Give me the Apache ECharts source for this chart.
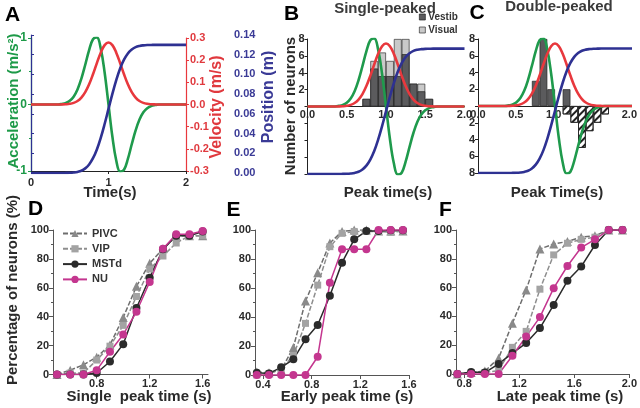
<!DOCTYPE html>
<html><head><meta charset="utf-8">
<script src="https://cdn.jsdelivr.net/npm/echarts@6/dist/echarts.min.js"></script>
<style>html,body{margin:0;padding:0;background:#fff}#c{width:640px;height:408px}</style>
</head><body><div id="c"></div>
<script>
// ---- Stimulus profiles (panel A, also overlaid in B and C) ----
const timeS = [0,0.05,0.1,0.15,0.2,0.25,0.3,0.35,0.4,0.45,0.5,0.55,0.6,0.65,0.7,0.75,0.8,0.85,0.9,0.95,1.0,
  1.05,1.1,1.15,1.2,1.25,1.3,1.35,1.4,1.45,1.5,1.55,1.6,1.65,1.7,1.75,1.8,1.85,1.9,1.95,2.0];
const accel = [0,0,0,0,0,0,0,0,0.009,0.024,0.056,0.118,0.226,0.389,0.598,0.818,0.981,1.009,0.842,0.482,0,
  -0.482,-0.842,-1.009,-0.981,-0.818,-0.598,-0.389,-0.226,-0.118,-0.056,-0.024,-0.009,0,0,0,0,0,0,0,0];
const velocity = [0,0,0,0,0,0,0,0,0.0004,0.0012,0.0031,0.0073,0.0157,0.0309,0.0554,0.0909,0.1363,0.1868,0.2339,0.2677,0.28,
  0.2677,0.2339,0.1868,0.1363,0.0909,0.0554,0.0309,0.0157,0.0073,0.0031,0.0012,0.0004,0,0,0,0,0,0,0,0];
const position = [0,0,0,0,0,0,0,0,0,0.0001,0.0002,0.0005,0.0011,0.0023,0.0047,0.0087,0.015,0.0239,0.0357,0.0497,0.065,
  0.0803,0.0943,0.1061,0.115,0.1213,0.1253,0.1277,0.1289,0.1295,0.1298,0.1299,0.13,0.13,0.13,0.13,0.13,0.13,0.13,0.13,0.13];

// ---- Panel B histogram (single-peaked) ----
const binsB = [0.75,0.85,0.95,1.05,1.15,1.25,1.35,1.45,1.55];
const vestibB = [0.9,4.5,3.6,3.6,3.6,6.2,2.7,1.8,0.9];
const visualB = [0.9,5.4,6.4,5.4,8.0,8.0,2.7,2.7,0.9];

// ---- Panel C histogram (double-peaked) ----
const binsCEarly = [0.75,0.85,0.95,1.15];
const earlyC = [3,8,2,2];
const binsCLate = [1.15,1.25,1.35,1.45,1.55,1.65];
const lateC = [1,2,5,3,2,1];

// ---- Panel D (single peak time) ----
const xD = [0.5,0.6,0.7,0.8,0.9,1.0,1.1,1.2,1.3,1.4,1.5,1.6];
const pivcD = [0,3,6.7,12,20.5,39.5,61,77,87,96,96,96];
const vipD  = [0,1,1,10,19.6,34,54,73,82,91,96,96];
const mstdD = [0,0,0,1,9,21,46,67,86.6,96,96,99];
const nuD   = [0,0,0,3,15.7,27.7,43.4,64,87,97,97,99.3];

// ---- Panel E (early peak time) ----
const xE = [0.35,0.45,0.55,0.65,0.75,0.85,0.95,1.05,1.15,1.25,1.35,1.45,1.55];
const pivcE = [2,1.6,3.4,19,51,70.6,91,99,100,100,99.3,99.3,99.3];
const vipE  = [0,1,4,13.5,35.6,62,88.5,97.7,99,99,99,98.4,99.3];
const mstdE = [1.6,1.1,5.3,10.8,24.6,34.5,54.7,77.5,93.6,99.3,99.3,99.8,99.8];
const nuE   = [0,0,0,0,0,12.6,63.7,86.7,86.7,86.7,100,100,100];

// ---- Panel F (late peak time) ----
const xF = [0.75,0.85,0.95,1.05,1.15,1.25,1.35,1.45,1.55,1.65,1.75,1.85,1.95];
const pivcF = [0,1,2,11,35.3,58.4,86.8,90.3,92,95,96,100,100];
const vipF  = [0,1,1,2.5,18.5,29.6,58.9,82.7,90.8,93.5,95,100,100];
const mstdF = [0,1.4,1,7,14.5,21.5,31.9,48,64.7,74.6,89.6,100,100];
const nuF   = [0,0,0,0,12.7,26,39.5,59.6,75,87.8,93.5,100,100];

const FONT = '"Liberation Sans", Arial, sans-serif';
const GREEN = '#1f9a4c', RED = '#e8383d', BLUE = '#2e3192';
const GREEN_T = '#1d9a48', RED_T = '#e0393e', BLUE_T = '#3a3a96';
const INK = '#2a2a2a';
const DARKBAR = '#5b5b5d', LIGHTBAR = '#c9c9c9';

const pairs = (xs, ys, f) => xs.map((x, i) => [x, f ? f(ys[i]) : ys[i]]);
const lbl = (color, extra) => Object.assign({color: color || INK, fontWeight: 'bold', fontSize: 11, fontFamily: FONT}, extra || {});

const chart = echarts.init(document.getElementById('c'), null, {renderer: 'canvas'});

const grids = [
  {left: 31, top: 38, width: 155, height: 133},      // 0 A
  {left: 31, top: 35, width: 155, height: 138},      // 1 A position axis
  {left: 307.5, top: 39, width: 157, height: 135},   // 2 B
  {left: 478, top: 39, width: 154, height: 134},     // 3 C
  {left: 53, top: 230, width: 155, height: 144.5},   // 4 D
  {left: 255, top: 230, width: 154, height: 145},    // 5 E
  {left: 456, top: 230, width: 174, height: 144},    // 6 F
  {left: 307.5, top: 39, width: 157, height: 67.5},  // 7 B upper half (time axis at zero line)
  {left: 478, top: 39, width: 154, height: 67}       // 8 C upper half (time axis at zero line)
];

const fmt1 = v => (Math.abs(v) < 1e-9 ? '0.0' : v.toFixed(1));

const midTimeAxis = gi => ({gridIndex: gi, type: 'value', min: 0, max: 2, interval: 0.5, splitLine: {show: false},
  axisLine: {onZero: false, lineStyle: {color: '#222'}}, axisTick: {show: false},
  axisLabel: lbl(INK, {margin: 3, formatter: fmt1})});

const xAxes = [
  {gridIndex: 0, type: 'value', min: 0, max: 2, interval: 1, splitLine: {show: false},
   axisLine: {onZero: false, lineStyle: {color: '#222'}}, axisTick: {length: 3, lineStyle: {color: '#222'}},
   axisLabel: lbl(INK, {margin: 6})},
  {gridIndex: 1, type: 'value', min: 0, max: 2, show: false},
  {gridIndex: 2, type: 'value', min: 0, max: 2, show: false},
  {gridIndex: 3, type: 'value', min: 0, max: 2, show: false},
  {gridIndex: 4, type: 'value', min: 0.47, max: 1.64, splitLine: {show: false},
   axisLine: {onZero: false, lineStyle: {color: '#555'}},
   axisTick: {customValues: [0.8, 1.2, 1.6], length: 4, lineStyle: {color: '#555'}},
   axisLabel: lbl(INK, {customValues: [0.8, 1.2, 1.6], formatter: fmt1, margin: 4})},
  {gridIndex: 5, type: 'value', min: 0.335, max: 1.6, splitLine: {show: false},
   axisLine: {onZero: false, lineStyle: {color: '#555'}},
   axisTick: {customValues: [0.4, 0.8, 1.2, 1.6], length: 4, lineStyle: {color: '#555'}},
   axisLabel: lbl(INK, {customValues: [0.4, 0.8, 1.2, 1.6], formatter: fmt1, margin: 4})},
  {gridIndex: 6, type: 'value', min: 0.74, max: 2.0, splitLine: {show: false},
   axisLine: {onZero: false, lineStyle: {color: '#555'}},
   axisTick: {customValues: [0.8, 1.2, 1.6, 2.0], length: 4, lineStyle: {color: '#555'}},
   axisLabel: lbl(INK, {customValues: [0.8, 1.2, 1.6, 2.0], formatter: fmt1, margin: 4})},
  midTimeAxis(7),
  midTimeAxis(8)
];

const pctAxis = gi => ({gridIndex: gi, type: 'value', min: 0, max: 100, interval: 20, splitLine: {show: false},
  axisLine: {show: true, lineStyle: {color: '#555'}}, axisTick: {show: true, length: 4, lineStyle: {color: '#555'}},
  minorTick: {show: true, splitNumber: 2, length: 2, lineStyle: {color: '#555'}},
  axisLabel: lbl(INK, {margin: 4})});

const yAxes = [
  {gridIndex: 0, type: 'value', min: -1, max: 1, interval: 1, position: 'left', splitLine: {show: false},
   axisLine: {show: true, lineStyle: {color: GREEN, width: 1.2}}, axisTick: {show: true, length: 3, lineStyle: {color: GREEN}},
   minorTick: {show: true, splitNumber: 2, length: 2, lineStyle: {color: GREEN}},
   axisLabel: lbl(GREEN_T, {margin: 4, fontSize: 12})},
  {gridIndex: 0, type: 'value', min: -0.3, max: 0.3, interval: 0.1, position: 'right', splitLine: {show: false},
   axisLine: {show: true, lineStyle: {color: RED, width: 1.2}}, axisTick: {show: true, length: 3, lineStyle: {color: RED}},
   axisLabel: lbl(RED_T, {margin: 4, formatter: fmt1})},
  {gridIndex: 1, type: 'value', min: 0, max: 0.14, interval: 0.02, position: 'right', offset: 44, splitLine: {show: false},
   axisLine: {show: true, lineStyle: {color: BLUE, width: 1.2}}, axisTick: {show: true, length: 3, lineStyle: {color: BLUE}},
   axisLabel: lbl(BLUE_T, {margin: 4, formatter: v => v.toFixed(2)})},
  // B
  {gridIndex: 2, type: 'value', min: -8, max: 8, interval: 2, splitLine: {show: false},
   axisLine: {show: true, onZero: false, lineStyle: {color: '#222'}}, axisTick: {show: true, length: 3, lineStyle: {color: '#222'}},
   axisLabel: lbl(INK, {margin: 3, formatter: v => (v > 0 ? String(v) : '')})},
  {gridIndex: 2, type: 'value', min: -1, max: 1, show: false},
  {gridIndex: 2, type: 'value', min: -0.3, max: 0.3, show: false},
  {gridIndex: 2, type: 'value', min: 0, max: 0.14, show: false},
  // C
  {gridIndex: 3, type: 'value', min: -8, max: 8, interval: 2, splitLine: {show: false},
   axisLine: {show: true, onZero: false, lineStyle: {color: '#222'}}, axisTick: {show: true, length: 3, lineStyle: {color: '#222'}},
   axisLabel: lbl(INK, {margin: 3, formatter: v => (v !== 0 ? String(Math.abs(v)) : '')})},
  {gridIndex: 3, type: 'value', min: -1, max: 1, show: false},
  {gridIndex: 3, type: 'value', min: -0.3, max: 0.3, show: false},
  {gridIndex: 3, type: 'value', min: 0, max: 0.14, show: false},
  // D E F
  pctAxis(4), pctAxis(5), pctAxis(6),
  // helper y axes for mid time axes
  {gridIndex: 7, type: 'value', min: 0, max: 1, show: false},
  {gridIndex: 8, type: 'value', min: 0, max: 1, show: false}
];

const curve = (name, ys, color, xi, yi) => ({
  name, type: 'line', xAxisIndex: xi, yAxisIndex: yi, data: pairs(timeS, ys), smooth: 0.4,
  showSymbol: false, lineStyle: {color, width: 2.6}, itemStyle: {color}, z: 5, silent: true
});

const cumStyles = {
  PIVC: {symbol: 'triangle', symbolSize: 9, item: '#8a8a8a', line: '#6e6e6e', type: [5, 2]},
  VIP:  {symbol: 'rect', symbolSize: 7, item: '#a3a3a3', line: '#8e8e8e', type: [5, 2]},
  MSTd: {symbol: 'circle', symbolSize: 8, item: '#2b2b2b', line: '#2b2b2b', type: 'solid'},
  NU:   {symbol: 'circle', symbolSize: 8, item: '#c4368f', line: '#c4368f', type: 'solid'}
};
const cum = (name, xs, ys, xi, yi) => {
  const s = cumStyles[name];
  return {name, type: 'line', xAxisIndex: xi, yAxisIndex: yi, data: pairs(xs, ys),
    symbol: s.symbol, symbolSize: s.symbolSize, showAllSymbol: true,
    lineStyle: {color: s.line, width: 1.5, type: s.type}, itemStyle: {color: s.item}, z: 4};
};

const barBase = {type: 'bar', barWidth: 7.8, silent: true};

const series = [
  curve('acc', accel, GREEN, 0, 0),
  curve('vel', velocity, RED, 0, 1),
  curve('pos', position, BLUE, 1, 2),
  Object.assign({}, barBase, {name: 'Visual', xAxisIndex: 2, yAxisIndex: 3, data: pairs(binsB, visualB),
    itemStyle: {color: LIGHTBAR, borderColor: '#333', borderWidth: 0.7}}),
  Object.assign({}, barBase, {name: 'Vestib', xAxisIndex: 2, yAxisIndex: 3, barGap: '-100%', data: pairs(binsB, vestibB),
    itemStyle: {color: DARKBAR, borderColor: '#222', borderWidth: 0.7}}),
  curve('accB', accel, GREEN, 2, 4),
  curve('velB', velocity, RED, 2, 5),
  curve('posB', position, BLUE, 2, 6),
  Object.assign({}, barBase, {name: 'Early', barWidth: 7.7, xAxisIndex: 3, yAxisIndex: 7, data: pairs(binsCEarly, earlyC),
    itemStyle: {color: DARKBAR, borderColor: '#222', borderWidth: 0.7}}),
  Object.assign({}, barBase, {name: 'Late', barWidth: 7.7, xAxisIndex: 3, yAxisIndex: 7, barGap: '-100%',
    data: pairs(binsCLate, lateC, v => -v),
    itemStyle: {color: '#ffffff', borderColor: '#222', borderWidth: 0.8,
      decal: {symbol: 'rect', symbolSize: 1, color: '#222', dashArrayX: [1, 0], dashArrayY: [1.1, 2.3], rotation: -Math.PI / 4}}}),
  curve('accC', accel, GREEN, 3, 8),
  curve('velC', velocity, RED, 3, 9),
  curve('posC', position, BLUE, 3, 10),
  cum('PIVC', xD, pivcD, 4, 11), cum('VIP', xD, vipD, 4, 11), cum('MSTd', xD, mstdD, 4, 11), cum('NU', xD, nuD, 4, 11),
  cum('PIVC', xE, pivcE, 5, 12), cum('VIP', xE, vipE, 5, 12), cum('MSTd', xE, mstdE, 5, 12), cum('NU', xE, nuE, 5, 12),
  cum('PIVC', xF, pivcF, 6, 13), cum('VIP', xF, vipF, 6, 13), cum('MSTd', xF, mstdF, 6, 13), cum('NU', xF, nuF, 6, 13)
];

const T = (text, x, y, size, color, rot) => ({
  type: 'text', x, y, rotation: rot || 0, silent: true, z: 10,
  style: {text, fill: color || INK, font: 'bold ' + size + 'px ' + FONT,
    textAlign: 'center', textVerticalAlign: 'middle', align: 'center', verticalAlign: 'middle'}
});
const UP = Math.PI / 2;

const graphic = [
  T('A', 12.5, 15, 21, '#000'), T('B', 291.5, 14.5, 21, '#000'), T('C', 477, 13, 21, '#000'),
  T('D', 35.5, 209.5, 21, '#000'), T('E', 233.5, 210.5, 21, '#000'), T('F', 445.5, 210.5, 21, '#000'),
  T('Single-peaked', 385, 9, 15, '#3a3a3a'), T('Double-peaked', 559, 7, 15, '#3a3a3a'),
  T('Acceleration (m/s\u00b2)', 13.5, 101, 15, GREEN_T, UP),
  T('Velocity (m/s)', 217, 107, 16, RED_T, UP),
  T('Position (m)', 269, 97, 16, BLUE_T, UP),
  T('Time(s)', 110, 193, 15, INK),
  T('Number of neurons', 291, 106, 15, INK, UP),
  T('Peak time(s)', 388, 193, 15, INK),
  T('Peak Time(s)', 557, 193, 15, INK),
  T('Percentage of neurons (%)', 12.5, 290, 15, INK, UP),
  T('Single  peak time (s)', 139, 397, 15, INK),
  T('Early peak time (s)', 347, 397, 15, INK),
  T('Late peak time (s)', 560, 397, 15, INK)
];

chart.setOption({
  animation: false,
  backgroundColor: '#ffffff',
  textStyle: {fontFamily: FONT},
  grid: grids,
  xAxis: xAxes,
  yAxis: yAxes,
  legend: [
    {data: [{name: 'Vestib', itemStyle: {color: DARKBAR, borderColor: '#222', borderWidth: 0.7}},
            {name: 'Visual', itemStyle: {color: LIGHTBAR, borderColor: '#333', borderWidth: 0.7, decal: 'none'}}],
     left: 419, top: 12, orient: 'vertical', icon: 'rect', itemWidth: 6, itemHeight: 6,
     itemGap: 3, padding: 0, selectedMode: false, textStyle: {fontSize: 10, fontWeight: 'bold', color: '#333', fontFamily: FONT, padding: [0, 0, 0, -2]}},
    {data: ['PIVC', 'VIP', 'MSTd', 'NU'], left: 62, top: 228, orient: 'vertical', itemWidth: 24, itemHeight: 9,
     itemGap: 4.3, padding: 0, selectedMode: false, textStyle: {fontSize: 11, fontWeight: 'bold', color: '#333', fontFamily: FONT}}
  ],
  series,
  graphic
});
</script></body></html>
